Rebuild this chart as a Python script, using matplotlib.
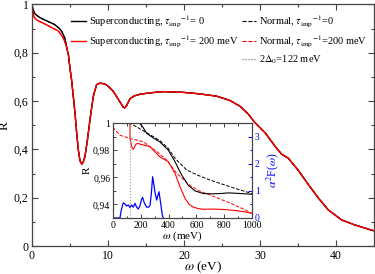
import matplotlib
matplotlib.use("Agg")
import matplotlib.pyplot as plt
from matplotlib.lines import Line2D
from matplotlib.ticker import FuncFormatter, MultipleLocator

plt.rcParams['font.family'] = ['Liberation Serif', 'DejaVu Serif']
plt.rcParams['mathtext.fontset'] = 'stix'

# ---------------- main panel data (omega in eV) ----------------
omega_low_black = [0.0, 0.1, 0.3, 0.6, 1.0, 1.5, 2.0, 2.4, 2.9, 3.25, 3.6, 3.9, 4.3, 4.8]
R_low_black = [1.0, 0.985, 0.965, 0.955, 0.946, 0.938, 0.931, 0.925, 0.918, 0.910, 0.900, 0.889, 0.862, 0.790]
omega_low_red = [0.0, 0.1, 0.25, 0.35, 0.6, 1.0, 1.5, 2.0, 2.4, 2.9, 3.5, 4.1, 4.5, 4.8]
R_low_red = [1.0, 0.975, 0.950, 0.945, 0.936, 0.929, 0.922, 0.914, 0.907, 0.899, 0.889, 0.862, 0.830, 0.790]
omega_high = [4.8, 5.0, 5.2, 5.45, 5.66, 5.9, 6.1, 6.3, 6.54, 6.75, 6.97, 7.3, 7.63, 8.07, 8.5, 8.9,
              9.4, 9.8, 10.26, 10.7, 11.1, 11.6, 12.0, 12.2, 12.46, 12.9, 13.5, 14.2, 15.5, 17.3,
              19.9, 22.0, 24.3, 26.0, 27.4, 28.4, 29.3, 30.7, 32.0, 32.85, 33.7, 35.0, 36.4, 37.7,
              39.0, 40.75, 42.5, 45.0]
R_high = [0.790, 0.735, 0.690, 0.615, 0.550, 0.460, 0.398, 0.355, 0.339, 0.348, 0.371, 0.440, 0.523,
          0.620, 0.668, 0.674, 0.672, 0.667, 0.654, 0.640, 0.620, 0.595, 0.575, 0.571, 0.582, 0.610,
          0.622, 0.628, 0.634, 0.639, 0.636, 0.630, 0.620, 0.603, 0.578, 0.548, 0.512, 0.468, 0.412,
          0.380, 0.364, 0.315, 0.253, 0.198, 0.149, 0.108, 0.087, 0.063]

# ---------------- inset data (omega in meV) ----------------
w_sc0 = [0, 190, 215, 242, 290, 338, 398, 446, 494, 542, 590, 650, 710, 770, 830, 890, 1000]
R_sc0 = [1.0, 1.0, 0.997, 0.9924, 0.989, 0.986, 0.980, 0.9715, 0.9617, 0.954, 0.950, 0.948,
         0.9478, 0.948, 0.9485, 0.9482, 0.9475]
w_n0 = [0, 130, 242, 338, 398, 446, 530, 610, 698, 770, 842, 920, 1000]
R_n0 = [1.0, 0.9995, 0.9929, 0.987, 0.9813, 0.974, 0.9654, 0.9615, 0.958, 0.9555, 0.953, 0.9505, 0.948]
w_sc200 = [0, 122, 123, 130, 138, 146, 155, 165, 175, 220, 266, 338, 398, 446, 482, 518, 548, 578,
           610, 650, 710, 770, 830, 890, 950, 1000]
R_sc200 = [1.0, 1.0, 0.989, 0.985, 0.9815, 0.9806, 0.9825, 0.9843, 0.985, 0.9838, 0.9826, 0.975,
           0.9715, 0.963, 0.953, 0.9445, 0.940, 0.938, 0.937, 0.9364, 0.9366, 0.9364, 0.936, 0.9354,
           0.9345, 0.9334]
w_n200 = [0, 15, 50, 122, 218, 314, 386, 458, 554, 620, 698, 770, 842, 920, 1000]
R_n200 = [0.997, 0.995, 0.991, 0.9887, 0.9862, 0.979, 0.9727, 0.963, 0.954, 0.950, 0.947, 0.944,
          0.941, 0.9375, 0.9334]
w_a2F = [0, 50, 60, 74, 86, 98, 110, 122, 134, 146, 158, 170, 182, 194, 205, 213, 225, 242, 255,
         266, 276, 285, 295, 302, 314, 324, 331, 343, 355, 362]
a2F = [0, 0, 0.30, 0.56, 0.52, 0.44, 0.48, 0.39, 0.48, 0.40, 0.54, 0.40, 0.33, 0.45, 0.68, 0.76,
       0.56, 0.40, 0.40, 0.45, 0.90, 1.52, 1.20, 0.95, 0.66, 0.85, 0.97, 0.54, 0.10, 0.0]
gap_2delta = 122

labels = [r"Superconducting, $\tau_{\rm imp}{}^{-1}$= 0",
          r"Superconducting, $\tau_{\rm imp}{}^{-1}$= 200 meV",
          r"Normal, $\tau_{\rm imp}{}^{-1}$=0",
          r"Normal, $\tau_{\rm imp}{}^{-1}$=200 meV",
          r"2$\Delta_0$=122 meV"]


def comma_fmt(v, pos):
    s = ("%.2f" % v).rstrip('0').rstrip('.')
    if s in ("-0", ""):
        s = "0"
    return s.replace('.', ',')


spine_col = '#444444'
fig = plt.figure(figsize=(3.75, 2.74), dpi=100)
ax = fig.add_axes([0.0853, 0.102, 0.912, 0.882])

omega_black = omega_low_black[:-1] + omega_high
R_black = R_low_black[:-1] + R_high
omega_red = omega_low_red[:-1] + omega_high
R_red = R_low_red[:-1] + R_high

ax.plot(omega_black, R_black, color='black', ls='--', lw=0.8)
ax.plot(omega_red, R_red, color='red', ls='--', lw=0.8)
ax.plot(omega_black, R_black, color='black', lw=1.0)
ax.plot(omega_red, R_red, color='red', lw=1.0)

ax.set_xlim(0, 45)
ax.set_ylim(0, 1)
ax.xaxis.set_major_locator(MultipleLocator(10))
ax.xaxis.set_minor_locator(MultipleLocator(5))
ax.yaxis.set_major_locator(MultipleLocator(0.2))
ax.yaxis.set_minor_locator(MultipleLocator(0.1))
ax.yaxis.set_major_formatter(FuncFormatter(comma_fmt))
ax.tick_params(which='both', direction='in', top=True, right=True, labelsize=8.5, colors='black')
ax.tick_params(which='major', length=4, width=0.8, color=spine_col, pad=2.5)
ax.tick_params(which='minor', length=2.5, width=0.8, color=spine_col)
for s in ax.spines.values():
    s.set_color(spine_col)
    s.set_linewidth(0.9)
ax.set_xlabel(r"$\omega$ (eV)", fontsize=9.5)
ax.xaxis.set_label_coords(0.5, -0.056)
ax.set_ylabel("R", fontsize=9.5)
ax.yaxis.set_label_coords(-0.062, 0.5)

handles = [Line2D([], [], color='black', lw=1.0),
           Line2D([], [], color='red', lw=1.0),
           Line2D([], [], color='none'),
           Line2D([], [], color='black', ls='--', lw=0.8),
           Line2D([], [], color='red', ls='--', lw=0.8),
           Line2D([], [], color='#666666', ls=':', lw=0.8)]
leg_labels = [labels[0], labels[1], "", labels[2], labels[3], labels[4]]
leg = ax.legend(handles, leg_labels, ncol=2, loc='upper right', bbox_to_anchor=(1.0, 0.99),
                frameon=False, fontsize=7.5, handlelength=1.35, handletextpad=0.35,
                columnspacing=0.3, labelspacing=0.45, borderaxespad=0.2)

# ---------------- inset ----------------
ins = fig.add_axes([0.3013, 0.2044, 0.3707, 0.3466])
ins.plot(w_n0, R_n0, color='black', ls='--', lw=0.7)
ins.plot(w_n200, R_n200, color='red', ls='--', lw=0.7)
ins.plot(w_sc0, R_sc0, color='black', lw=0.8)
ins.plot(w_sc200, R_sc200, color='red', lw=0.8)
ins.axvline(gap_2delta, color='#999999', ls=':', lw=0.8)
ins.set_xlim(0, 1000)
ins.set_ylim(0.93, 1.0)
ins.xaxis.set_major_locator(MultipleLocator(200))
ins.xaxis.set_minor_locator(MultipleLocator(100))
ins.yaxis.set_major_locator(MultipleLocator(0.02))
ins.yaxis.set_minor_locator(MultipleLocator(0.01))
ins.yaxis.set_major_formatter(FuncFormatter(comma_fmt))
ins.tick_params(which='both', direction='in', top=True, labelsize=7, pad=2)
ins.tick_params(which='major', length=3, width=0.7, color=spine_col)
ins.tick_params(which='minor', length=1.8, width=0.7, color=spine_col)
ins.set_xlabel(r"$\omega$ (meV)", fontsize=8, labelpad=0)
ins.set_ylabel("R", fontsize=8, labelpad=1)
for s in ins.spines.values():
    s.set_color(spine_col)
    s.set_linewidth(0.8)

ins2 = ins.twinx()
ins2.plot(w_a2F, a2F, color='blue', lw=0.9)
ins2.set_ylim(0, 3.5)
ins2.yaxis.set_major_locator(MultipleLocator(1))
ins2.yaxis.set_minor_locator(MultipleLocator(0.5))
ins2.tick_params(which='both', direction='in', colors='blue', labelsize=7, pad=2)
ins2.tick_params(which='major', length=3, width=0.7)
ins2.tick_params(which='minor', length=1.8, width=0.7)
ins2.set_ylabel(r"$\alpha^2$F($\omega$)", color='blue', fontsize=8.5, labelpad=3)
for s in ins2.spines.values():
    s.set_color(spine_col)
    s.set_linewidth(0.8)

fig.savefig("out.png", dpi=100)
